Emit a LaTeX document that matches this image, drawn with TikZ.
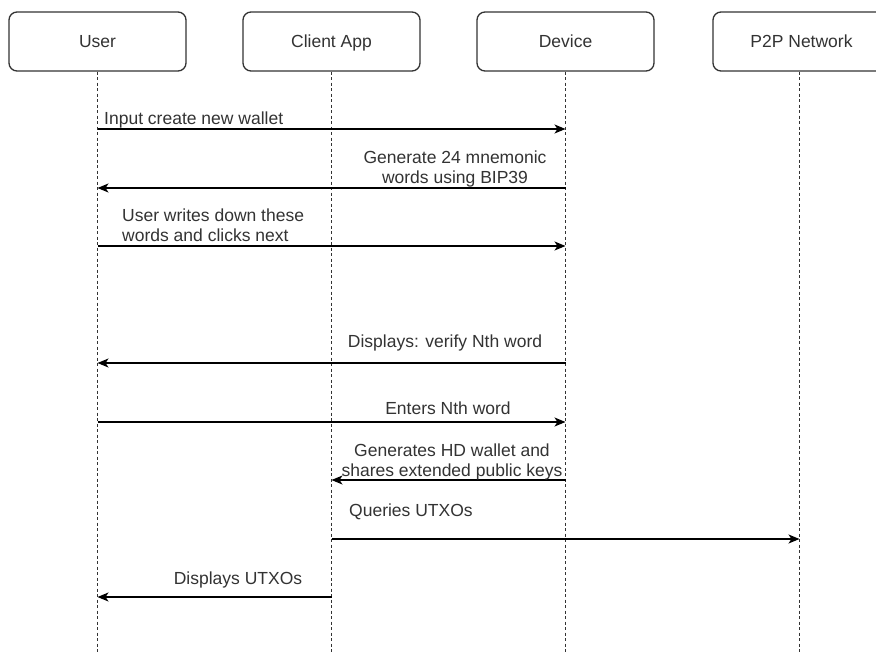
\documentclass[tikz,border=0pt]{standalone}
\usepackage{fontspec}
\setmainfont{Liberation Sans}
\usetikzlibrary{arrows.meta}
\definecolor{txt}{HTML}{333333}
\begin{document}
\begin{tikzpicture}[x=1pt,y=-1pt,
  actor/.style={draw=txt, line width=1.3pt, rounded corners=8pt, minimum width=177pt, minimum height=59pt,
    font=\fontsize{17.5}{20}\selectfont, text=txt, inner sep=0pt, fill=white, text height=12.5pt, text depth=0pt},
  life/.style={draw=txt, line width=1.2pt, dash pattern=on 3pt off 2.5pt},
  msg/.style={draw=black, line width=1.2pt, -{Stealth[length=11pt,width=9pt,inset=3pt]}},
  lbl/.style={font=\fontsize{17.5}{20}\selectfont, text=txt, inner sep=0pt, align=center}]
\useasboundingbox (0,0) rectangle (876,653);
\clip (0,0) rectangle (876,653);
\fill[white] (0,0) rectangle (876,653);

% participants
\node[actor] (user)   at (97.5,41.5)  {User};
\node[actor] (client) at (331.5,41.5) {Client App};
\node[actor] (device) at (565.5,41.5) {Device};
\node[actor] (p2p)    at (801.5,41.5) {P2P Network};

% lifelines
\coordinate (uE) at (97.5,653);
\coordinate (cE) at (331.5,653);
\coordinate (dE) at (565.5,653);
\coordinate (pE) at (799.5,653);
\draw[life] (user.south) -- (uE);
\draw[life] (client.south) -- (cE);
\draw[life] (device.south) -- (dE);
\draw[life] ([xshift=-2pt]p2p.south) -- (pE);

% message anchor points
\coordinate (u1) at (97.5,129);  \coordinate (d1) at (565.5,129);
\coordinate (u2) at (97.5,188);  \coordinate (d2) at (565.5,188);
\coordinate (u3) at (97.5,246);  \coordinate (d3) at (565.5,246);
\coordinate (u4) at (97.5,363);  \coordinate (d4) at (565.5,363);
\coordinate (u5) at (97.5,422);  \coordinate (d5) at (565.5,422);
\coordinate (c6) at (331.5,480); \coordinate (d6) at (565.5,480);
\coordinate (c7) at (331.5,539); \coordinate (p7) at (799.5,539);
\coordinate (u8) at (97.5,597);  \coordinate (c8) at (331.5,597);

% messages
\draw[msg] (u1) -- (d1);
\draw[msg] (d2) -- (u2);
\draw[msg] (u3) -- (d3);
\draw[msg] (d4) -- (u4);
\draw[msg] (u5) -- (d5);
\draw[msg] (d6) -- (c6);
\draw[msg] (c7) -- (p7);
\draw[msg] (c8) -- (u8);

% labels (base = baseline of the last line)
\node[lbl, anchor=base west] (l1) at (104,124) {Input create new wallet};
\node[lbl, anchor=base] (l2) at (455,183) {Generate 24 mnemonic\\words using BIP39};
\node[lbl, anchor=base west, align=left] (l3) at (122,241) {User writes down these\\words and clicks next};
\node[lbl, anchor=base] (l4) at (445,347) {Displays: verify Nth word};
\node[lbl, anchor=base] (l5) at (448,414) {Enters Nth word};
\node[lbl, anchor=base] (l6) at (452,476) {Generates HD wallet and\\shares extended public keys};
\node[lbl, anchor=base west] (l7) at (349,516) {Queries UTXOs};
\node[lbl, anchor=base] (l8) at (238,584) {Displays UTXOs};
\end{tikzpicture}
\end{document}
